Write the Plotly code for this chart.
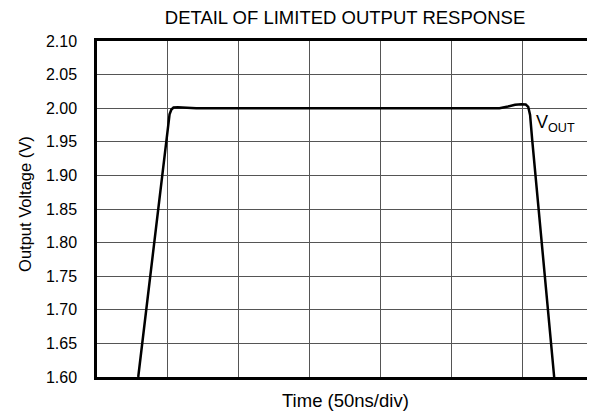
import plotly.graph_objects as go

# Time in ns (50 ns/div), output voltage in V
time_ns = [29.1, 48.7, 50.0, 51.2, 52.5, 54.0, 57.0, 62.0, 70.0, 150.0, 250.0,
           284.0, 290.0, 295.0, 299.5, 302.5, 304.3, 305.6, 307.1, 322.6]
vout = [1.60, 1.953, 1.976, 1.991, 1.998, 2.001, 2.0015, 2.0008, 2.0, 2.0, 2.0,
        2.0, 2.0025, 2.005, 2.006, 2.0055, 2.002, 1.99, 1.953, 1.60]

y_ticks = [1.60, 1.65, 1.70, 1.75, 1.80, 1.85, 1.90, 1.95, 2.00, 2.05, 2.10]
x_grid = [0, 50, 100, 150, 200, 250, 300, 350]

FONT = "Liberation Sans, Arial, sans-serif"

# the page body adds an 8px offset; the figure is sized to compensate
OFF = 8

fig = go.Figure()
fig.add_trace(go.Scatter(x=time_ns, y=vout, mode="lines",
                         line=dict(color="black", width=2.5),
                         showlegend=False, hoverinfo="skip"))

fig.add_annotation(x=308.3, y=1.977, text="V<sub>OUT</sub>", showarrow=False,
                   xanchor="left", yanchor="middle",
                   font=dict(family=FONT, size=18, color="black"))

# axis titles as annotations for exact placement
fig.add_annotation(xref="paper", yref="paper", x=0.502, y=-0.0685,
                   text="Time (50ns/div)", showarrow=False,
                   xanchor="center", yanchor="middle",
                   font=dict(family=FONT, size=18.5, color="black"))
fig.add_annotation(xref="paper", yref="paper", x=-0.1452, y=0.515,
                   text="Output Voltage (V)", showarrow=False, textangle=-90,
                   xanchor="center", yanchor="middle",
                   font=dict(family=FONT, size=16.5, color="black"))

fig.update_layout(
    width=595 - OFF, height=414 - OFF,
    margin=dict(l=97 - OFF, r=2, t=41 - OFF, b=37, autoexpand=False),
    paper_bgcolor="white", plot_bgcolor="white",
    title=dict(text="DETAIL OF LIMITED OUTPUT RESPONSE", xref="paper", x=0.5,
               xanchor="center", y=1 - (18 - OFF) / (414 - OFF), yanchor="middle",
               font=dict(family=FONT, size=18.5, color="black")),
    font=dict(family=FONT, size=16, color="black"),
)

fig.update_xaxes(range=[0, 350], tickvals=x_grid, showticklabels=False, ticks="",
                 showgrid=True, gridcolor="#555555", gridwidth=1,
                 showline=True, linecolor="black", linewidth=2.5, mirror=True,
                 zeroline=False, automargin=False)
fig.update_yaxes(range=[1.60, 2.10], tickvals=y_ticks,
                 ticktext=[f"{v:.2f}" for v in y_ticks],
                 ticks="outside", ticklen=14, tickcolor="white",
                 showgrid=True, gridcolor="#555555", gridwidth=1,
                 showline=True, linecolor="black", linewidth=2.5, mirror=True,
                 zeroline=False, automargin=False,
                 tickfont=dict(family=FONT, size=16, color="black"))

fig.write_html("out.html")
